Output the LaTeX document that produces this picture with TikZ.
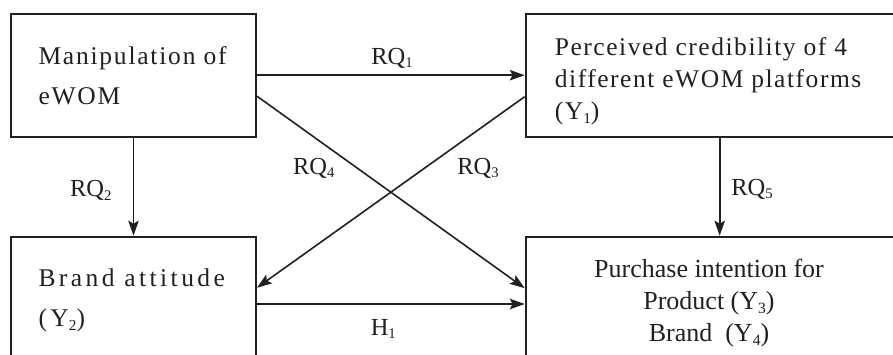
\documentclass[tikz,border=0pt]{standalone}
\usepackage{fontspec}
\setmainfont{Liberation Serif}
\newfontfamily\spA[LetterSpace=7]{Liberation Serif}
\newfontfamily\spC[LetterSpace=6]{Liberation Serif}
\newfontfamily\spB[LetterSpace=13.5]{Liberation Serif}
\usetikzlibrary{arrows.meta}
\definecolor{ink}{RGB}{35,31,32}
\newcommand\lowsub[1]{\raisebox{-0.14em}{\scalebox{0.6}{#1}}}
\tikzset{
  box/.style={draw=ink, line width=2pt, inner sep=0pt, anchor=north west},
  txt/.style={inner sep=0pt, text=ink, align=left},
  lbl/.style={inner sep=0pt, text=ink, anchor=base, font=\fontsize{24.5}{28}\selectfont},
  arr/.style={draw=ink, line width=1.6pt, -{Stealth[length=15pt,width=10.5pt,inset=3pt]}}
}
\begin{document}
\begin{tikzpicture}[x=1pt,y=-1pt]
\useasboundingbox (0,0) rectangle (893,355);
\clip (0,0) rectangle (893,355);
% boxes
\node[box, minimum width=245pt, minimum height=123pt] (m) at (10,12.7) {};
\node[box, minimum width=390pt, minimum height=123pt] (c) at (524.7,12.7) {};
\node[box, minimum width=245pt, minimum height=140pt] (b) at (10,235.7) {};
\node[box, minimum width=390pt, minimum height=140pt] (p) at (524.7,235.7) {};
% texts (anchor = baseline of the last line)
\node[txt, anchor=base west, font=\spA\fontsize{25.5}{40}\selectfont] (mt) at (38.3,104.3) {Manipulation of\\eWOM};
\node[txt, anchor=base west, font=\spC\fontsize{25.5}{32.2}\selectfont] (ct) at (554.7,120) {Perceived credibility of 4\\different eWOM platforms\\(Y\lowsub{1})};
\node[txt, anchor=base west, font=\spB\fontsize{25.5}{40}\selectfont] (bt) at (38.3,326.7) {Brand attitude\\(Y\lowsub{2})};
\node[txt, align=center, anchor=base, font=\fontsize{26}{32.2}\selectfont] (pt) at (709,341.7) {Purchase intention for\\Product (Y\lowsub{3})\\Brand\ \ (Y\lowsub{4})};
% connectors
\draw[arr] (m.east) -- (c.west);
\draw[arr] ([yshift=-21pt]m.east) -- ([yshift=-52.5pt]p.north west);
\draw[arr] ([yshift=-84pt]c.north west) -- ([yshift=-52pt]b.north east);
\draw[arr] (m.south) -- (b.north);
\draw[arr] ([xshift=195pt]c.south west) -- ([xshift=195pt]p.north west);
\draw[arr] ([yshift=-68.3pt]b.north east) -- ([yshift=-68.3pt]p.north west);
% labels
\node[lbl] (l1) at (392,64.5) {RQ\lowsub{1}};
\node[lbl] (l4) at (313.8,174.5) {RQ\lowsub{4}};
\node[lbl] (l3) at (478,174.5) {RQ\lowsub{3}};
\node[lbl] (l2) at (90.8,196.7) {RQ\lowsub{2}};
\node[lbl] (l5) at (752,195.5) {RQ\lowsub{5}};
\node[lbl] (lh) at (383.3,335) {H\lowsub{1}};
\end{tikzpicture}
\end{document}
